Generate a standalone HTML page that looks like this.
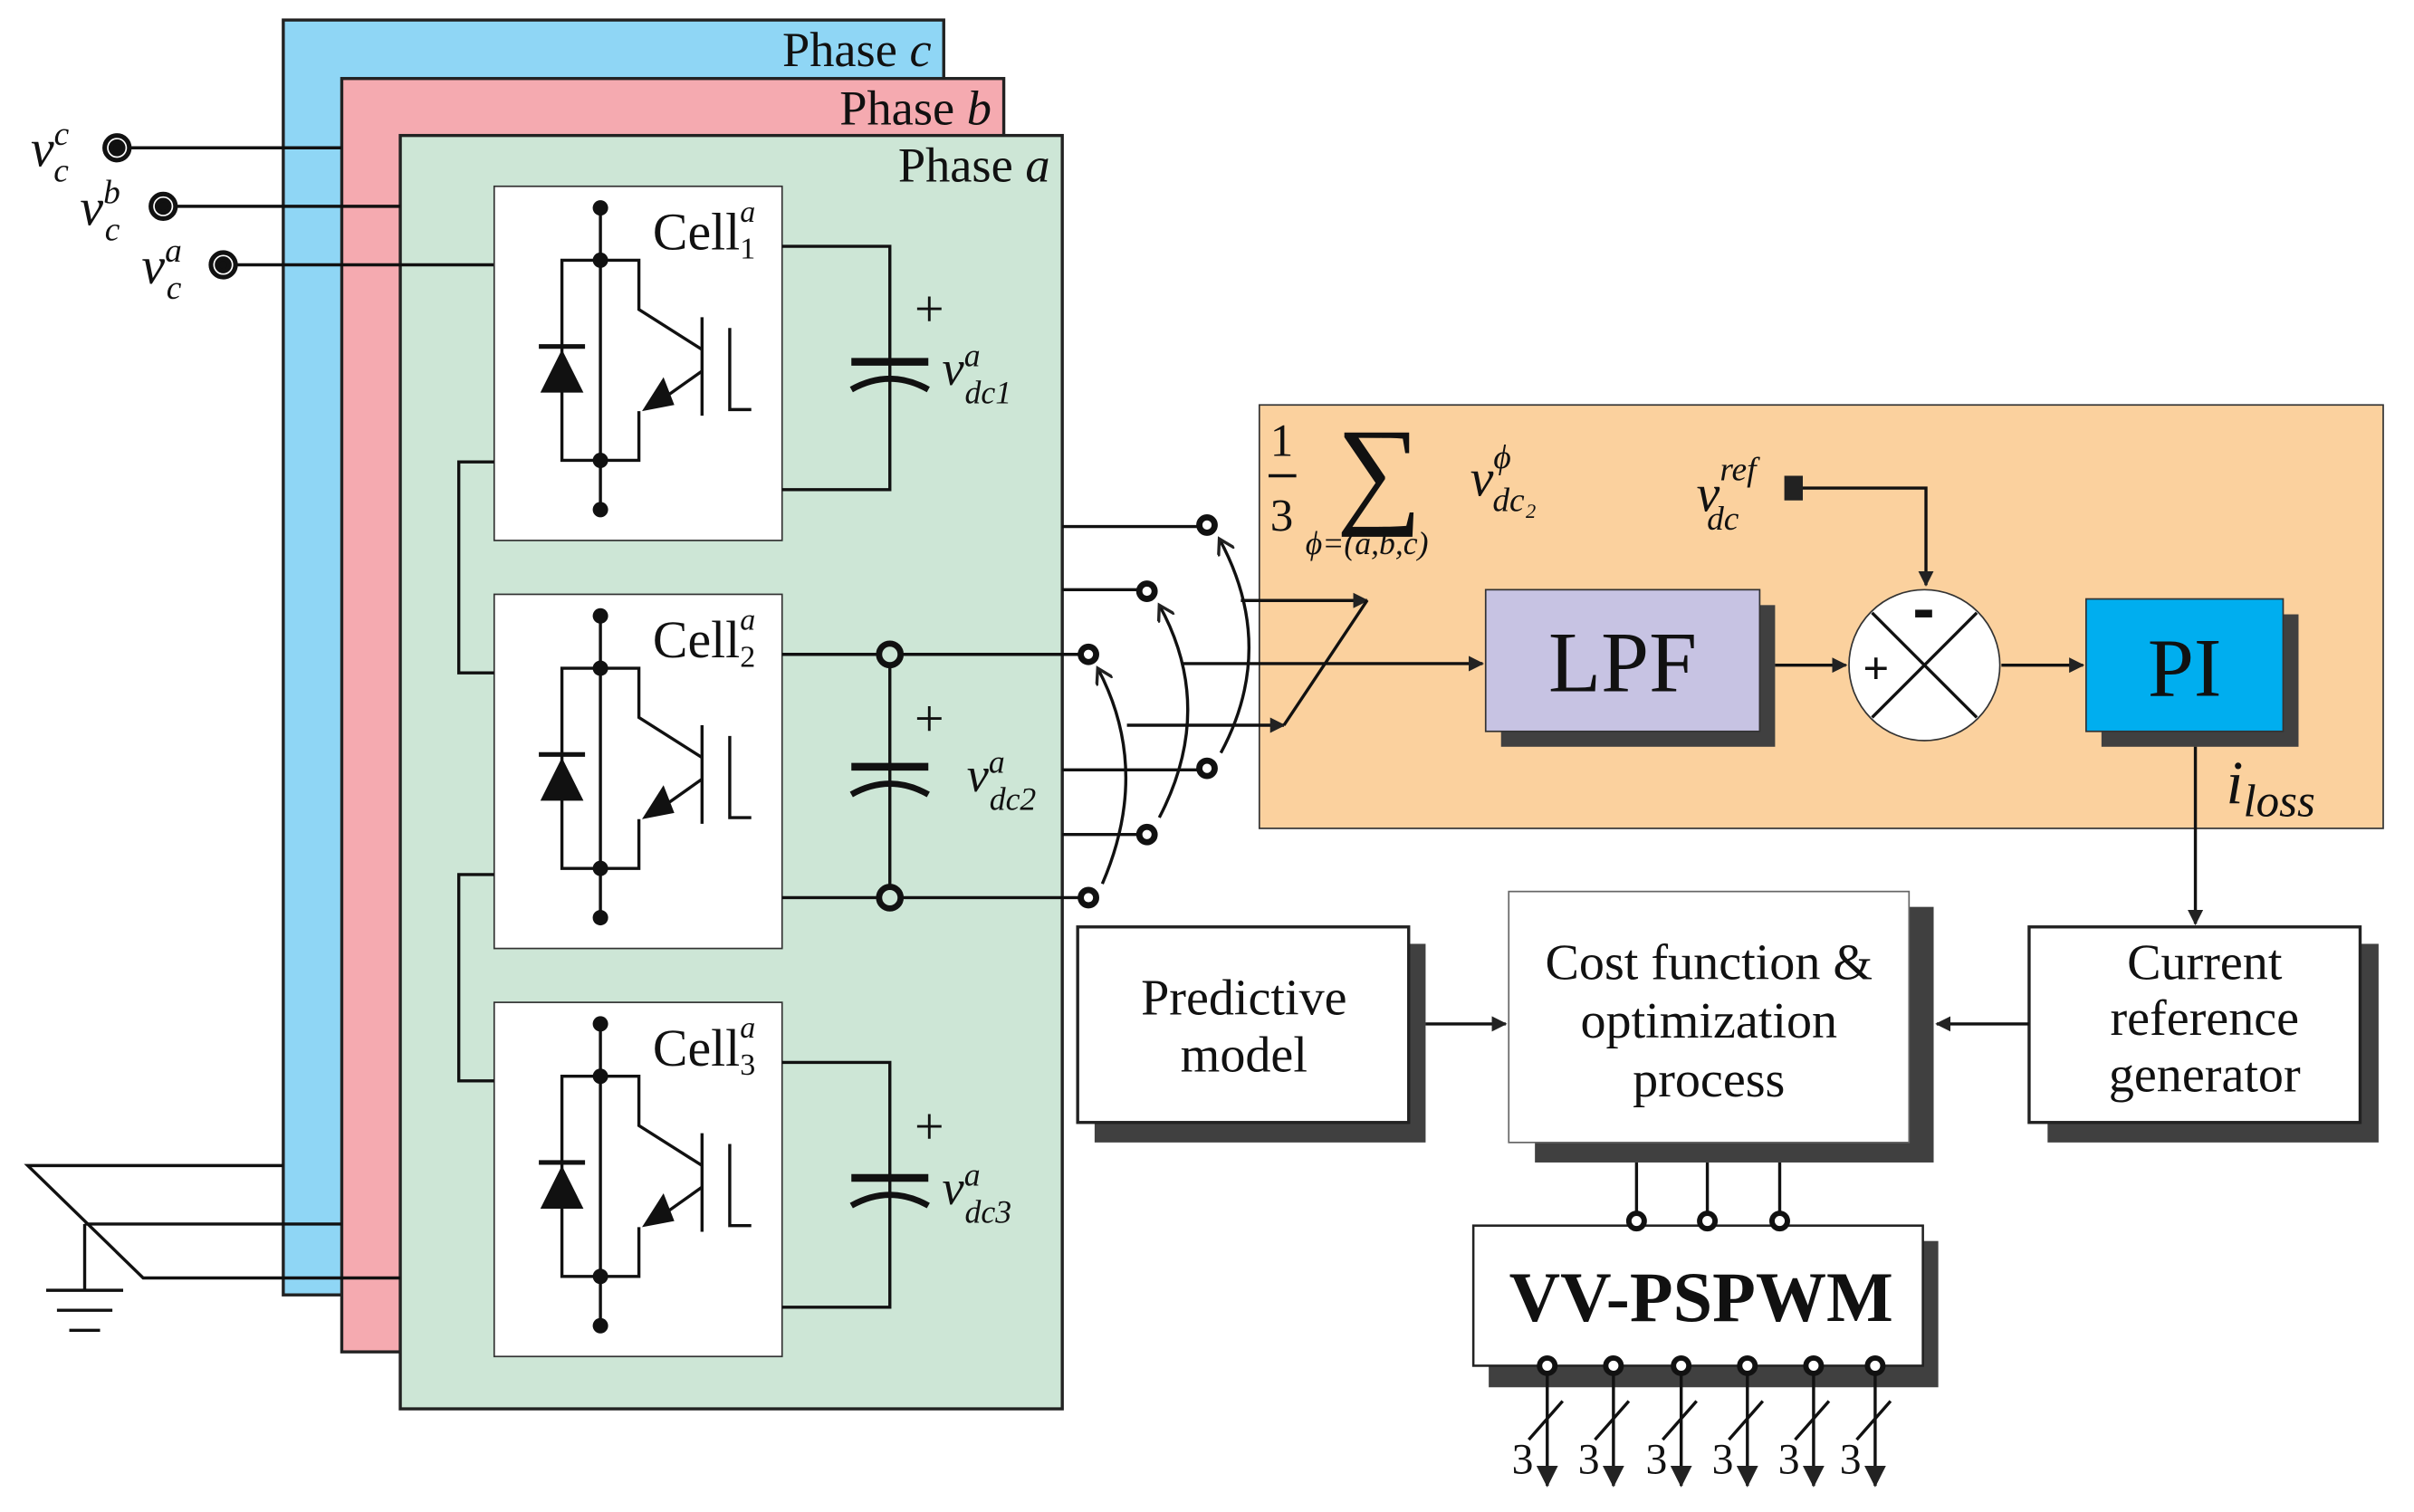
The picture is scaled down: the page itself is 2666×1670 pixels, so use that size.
<!DOCTYPE html>
<html><head><style>html,body{margin:0;padding:0;background:#fff}svg{display:block}</style></head>
<body>
<svg xmlns="http://www.w3.org/2000/svg" width="2666" height="1670" viewBox="0 0 1568 982" preserveAspectRatio="none" font-family="Liberation Serif, serif">
<defs>
<marker id="ar" markerWidth="10" markerHeight="10" refX="9" refY="5" orient="auto" markerUnits="userSpaceOnUse"><path d="M0,0 L10,5 L0,10 Z" fill="#222"/></marker>
<marker id="ar2" markerWidth="14" markerHeight="14" refX="13" refY="7" orient="auto" markerUnits="userSpaceOnUse"><path d="M0,0 L14,7 L0,14 Z" fill="#222"/></marker>
<marker id="ao" markerWidth="12" markerHeight="12" refX="10" refY="6" orient="auto" markerUnits="userSpaceOnUse"><path d="M0,0 L10,6 L0,12" fill="none" stroke="#222" stroke-width="2"/></marker>
<g id="cell">
<rect x="0" y="0" width="187" height="230" fill="#fff" stroke="#333" stroke-width="1"/>
<g stroke="#111" stroke-width="2" fill="none">
<line x1="69" y1="14" x2="69" y2="210"/>
<path d="M69,48 H44 V178 H94 V146"/>
<path d="M69,48 H94 V80 L135,106"/>
<line x1="135" y1="85" x2="135" y2="149"/>
<path d="M153,92 V145 H167"/>
<line x1="135" y1="120" x2="111" y2="137"/>
</g>
<path d="M30,134 L58,134 L44,106 Z" fill="#111"/><line x1="29" y1="104" x2="59" y2="104" stroke="#111" stroke-width="3"/>
<path d="M96,146 L117,142 L110,124 Z" fill="#111"/>
<circle cx="69" cy="14" r="5" fill="#111"/><circle cx="69" cy="48" r="5" fill="#111"/>
<circle cx="69" cy="178" r="5" fill="#111"/><circle cx="69" cy="210" r="5" fill="#111"/>
</g>
<g id="cap" stroke="#111" fill="none">
<line x1="-25" y1="0" x2="25" y2="0" stroke-width="5"/>
<path d="M-25,18 Q0,4 25,18" stroke-width="4"/>
</g>
</defs>

<rect x="184" y="13" width="429" height="828" fill="#8fd6f5" stroke="#222" stroke-width="2"/>
<rect x="222" y="51" width="430" height="827" fill="#f5aab0" stroke="#222" stroke-width="2"/>
<rect x="260" y="88" width="430" height="827" fill="#cde6d6" stroke="#222" stroke-width="2"/>
<text x="605" y="43" font-size="32" text-anchor="end" fill="#111">Phase <tspan font-style="italic">c</tspan></text>
<text x="644" y="81" font-size="32" text-anchor="end" fill="#111">Phase <tspan font-style="italic">b</tspan></text>
<text x="682" y="118" font-size="32" text-anchor="end" fill="#111">Phase <tspan font-style="italic">a</tspan></text>

<g stroke="#111" stroke-width="2" fill="none">
<line x1="76" y1="96" x2="222" y2="96"/>
<line x1="106" y1="134" x2="260" y2="134"/>
<line x1="145" y1="172" x2="321" y2="172"/>
<path d="M184,757 H18 L93,830 H260"/>
<path d="M55,795 H222"/>
<path d="M55,795 V838"/>
<line x1="30" y1="838" x2="80" y2="838"/><line x1="37" y1="851" x2="73" y2="851"/><line x1="45" y1="864" x2="65" y2="864"/>
</g>
<g fill="#111" stroke="#111" stroke-width="3">
<circle cx="76" cy="96" r="8" fill="#fff"/><circle cx="76" cy="96" r="4"/>
<circle cx="106" cy="134" r="8" fill="#fff"/><circle cx="106" cy="134" r="4"/>
<circle cx="145" cy="172" r="8" fill="#fff"/><circle cx="145" cy="172" r="4"/>
</g>
<g font-style="italic" fill="#111">
<text x="20" y="108" font-size="34">v<tspan font-size="22" dy="-14">c</tspan><tspan font-size="22" dx="-10" dy="24">c</tspan></text>
<text x="52" y="146" font-size="34">v<tspan font-size="22" dy="-14">b</tspan><tspan font-size="22" dx="-10" dy="24">c</tspan></text>
<text x="92" y="184" font-size="34">v<tspan font-size="22" dy="-14">a</tspan><tspan font-size="22" dx="-10" dy="24">c</tspan></text>
</g>

<use href="#cell" x="321" y="121"/>
<use href="#cell" x="321" y="386"/>
<use href="#cell" x="321" y="651"/>
<g font-size="34" fill="#111">
<text x="424" y="162">Cell<tspan font-size="20" dy="6">1</tspan><tspan font-size="20" font-style="italic" dx="-10" dy="-24">a</tspan></text>
<text x="424" y="427">Cell<tspan font-size="20" dy="6">2</tspan><tspan font-size="20" font-style="italic" dx="-10" dy="-24">a</tspan></text>
<text x="424" y="692">Cell<tspan font-size="20" dy="6">3</tspan><tspan font-size="20" font-style="italic" dx="-10" dy="-24">a</tspan></text>
</g>
<g stroke="#111" stroke-width="2" fill="none">
<path d="M321,300 H298 V437 H321"/>
<path d="M321,568 H298 V702 H321"/>
<path d="M508,160 H578 V318 H508"/>
<path d="M508,690 H578 V849 H508"/>
<path d="M508,425 H708"/>
<path d="M508,583 H708"/>
<line x1="578" y1="425" x2="578" y2="583"/>
</g>
<use href="#cap" x="578" y="235"/>
<use href="#cap" x="578" y="498"/>
<use href="#cap" x="578" y="765"/>
<g fill="#cde6d6" stroke="#111" stroke-width="4"><circle cx="578" cy="425" r="7"/><circle cx="578" cy="583" r="7"/></g>
<g font-size="34" fill="#111">
<text x="594" y="212">+</text><text x="594" y="478">+</text><text x="594" y="743">+</text>
</g>
<g font-style="italic" fill="#111" font-size="32">
<text x="612" y="250">v<tspan font-size="21" dy="-12">a</tspan><tspan font-size="21" dx="-10" dy="24">dc1</tspan></text>
<text x="628" y="514">v<tspan font-size="21" dy="-12">a</tspan><tspan font-size="21" dx="-10" dy="24">dc2</tspan></text>
<text x="612" y="782">v<tspan font-size="21" dy="-12">a</tspan><tspan font-size="21" dx="-10" dy="24">dc3</tspan></text>
</g>

<rect x="818" y="263" width="730" height="275" fill="#fbd19e" stroke="#333" stroke-width="1"/>

<g stroke="#111" stroke-width="2" fill="none">
<line x1="690" y1="342" x2="781" y2="342"/>
<line x1="690" y1="383" x2="741" y2="383"/>
<line x1="690" y1="500" x2="781" y2="500"/>
<line x1="690" y1="542" x2="741" y2="542"/>
<path d="M716,574 Q748,500 713,434" marker-end="url(#ao)"/>
<path d="M753,531 Q790,460 753,393" marker-end="url(#ao)"/>
<path d="M793,489 Q830,420 792,350" marker-end="url(#ao)"/>
<line x1="806" y1="390" x2="888" y2="390" marker-end="url(#ar)"/>
<line x1="768" y1="431" x2="963" y2="431" marker-end="url(#ar)"/>
<line x1="732" y1="471" x2="834" y2="471" marker-end="url(#ar)"/>
<line x1="834" y1="471" x2="888" y2="390"/>
</g>
<g fill="#fff" stroke="#111" stroke-width="4">
<circle cx="784" cy="341" r="5"/><circle cx="745" cy="384" r="5"/><circle cx="707" cy="425" r="5"/>
<circle cx="784" cy="499" r="5"/><circle cx="745" cy="542" r="5"/><circle cx="707" cy="583" r="5"/>
</g>

<text x="825" y="296" font-size="30" fill="#111">1</text>
<line x1="824" y1="309" x2="842" y2="309" stroke="#111" stroke-width="2"/>
<text x="825" y="345" font-size="30" fill="#111">3</text>
<text x="868" y="332" font-size="78" fill="#111">∑</text>
<text x="848" y="360" font-size="21" font-style="italic" fill="#111">ϕ=(a,b,c)</text>
<text x="955" y="322" font-size="34" font-style="italic" fill="#111">v<tspan font-size="22" dy="-18">ϕ</tspan><tspan font-size="22" dx="-12" dy="28">dc₂</tspan></text>
<text x="1102" y="332" font-size="34" font-style="italic" fill="#111">v<tspan font-size="22" dy="-20">ref</tspan><tspan font-size="22" dx="-32" dy="32">dc</tspan></text>
<rect x="1159" y="309" width="12" height="16" fill="#222"/>
<path d="M1171,317 H1251 V380" stroke="#111" stroke-width="2" fill="none" marker-end="url(#ar)"/>

<rect x="975" y="393" width="178" height="92" fill="#404040"/>
<rect x="965" y="383" width="178" height="92" fill="#c7c3e3" stroke="#333" stroke-width="1"/>
<text x="1054" y="449" font-size="56" text-anchor="middle" fill="#111">LPF</text>
<line x1="1153" y1="432" x2="1199" y2="432" stroke="#111" stroke-width="2" marker-end="url(#ar)"/>
<circle cx="1250" cy="432" r="49" fill="#fff" stroke="#333" stroke-width="1"/>
<line x1="1216" y1="398" x2="1284" y2="466" stroke="#111" stroke-width="2"/>
<line x1="1284" y1="398" x2="1216" y2="466" stroke="#111" stroke-width="2"/>
<rect x="1244" y="396" width="11" height="5" fill="#111"/>
<text x="1210" y="444" font-size="30" font-weight="bold" fill="#111">+</text>
<line x1="1300" y1="432" x2="1353" y2="432" stroke="#111" stroke-width="2" marker-end="url(#ar)"/>
<rect x="1365" y="399" width="128" height="86" fill="#404040"/>
<rect x="1355" y="389" width="128" height="86" fill="#00aeef" stroke="#333" stroke-width="1"/>
<text x="1419" y="452" font-size="54" text-anchor="middle" fill="#111">PI</text>
<line x1="1426" y1="485" x2="1426" y2="600" stroke="#111" stroke-width="2" marker-end="url(#ar)"/>
<text x="1446" y="522" font-size="40" font-style="italic" fill="#111">i<tspan font-size="30" dy="8">loss</tspan></text>

<rect x="711" y="613" width="215" height="129" fill="#404040"/>
<rect x="700" y="602" width="215" height="127" fill="#fff" stroke="#222" stroke-width="2"/>
<text x="808" y="659" font-size="33" text-anchor="middle" fill="#111">Predictive</text>
<text x="808" y="696" font-size="33" text-anchor="middle" fill="#111">model</text>
<line x1="926" y1="665" x2="978" y2="665" stroke="#111" stroke-width="2" marker-end="url(#ar)"/>

<rect x="997" y="589" width="259" height="166" fill="#404040"/>
<rect x="980" y="579" width="260" height="163" fill="#fff" stroke="#666" stroke-width="1"/>
<text x="1110" y="636" font-size="33" text-anchor="middle" fill="#111">Cost function &amp;</text>
<text x="1110" y="674" font-size="33" text-anchor="middle" fill="#111">optimization</text>
<text x="1110" y="712" font-size="33" text-anchor="middle" fill="#111">process</text>

<rect x="1330" y="613" width="215" height="129" fill="#404040"/>
<rect x="1318" y="602" width="215" height="127" fill="#fff" stroke="#222" stroke-width="2"/>
<text x="1432" y="636" font-size="33" text-anchor="middle" fill="#111">Current</text>
<text x="1432" y="672" font-size="33" text-anchor="middle" fill="#111">reference</text>
<text x="1432" y="709" font-size="33" text-anchor="middle" fill="#111">generator</text>
<line x1="1318" y1="665" x2="1258" y2="665" stroke="#111" stroke-width="2" marker-end="url(#ar)"/>

<g stroke="#111" stroke-width="2"><line x1="1063" y1="755" x2="1063" y2="793"/><line x1="1109" y1="755" x2="1109" y2="793"/><line x1="1156" y1="755" x2="1156" y2="793"/></g>
<rect x="967" y="806" width="292" height="95" fill="#404040"/>
<rect x="957" y="796" width="292" height="91" fill="#fff" stroke="#222" stroke-width="1.5"/>
<text x="1105" y="858" font-size="46" font-weight="bold" text-anchor="middle" fill="#111">VV-PSPWM</text>
<g fill="#fff" stroke="#111" stroke-width="3.5">
<circle cx="1063" cy="793" r="5"/><circle cx="1109" cy="793" r="5"/><circle cx="1156" cy="793" r="5"/>
</g>
<g stroke="#111" stroke-width="2">
<line x1="1005" y1="888" x2="1005" y2="965" marker-end="url(#ar2)"/><line x1="993" y1="935" x2="1015" y2="910"/>
<line x1="1048" y1="888" x2="1048" y2="965" marker-end="url(#ar2)"/><line x1="1036" y1="935" x2="1058" y2="910"/>
<line x1="1092" y1="888" x2="1092" y2="965" marker-end="url(#ar2)"/><line x1="1080" y1="935" x2="1102" y2="910"/>
<line x1="1135" y1="888" x2="1135" y2="965" marker-end="url(#ar2)"/><line x1="1123" y1="935" x2="1145" y2="910"/>
<line x1="1178" y1="888" x2="1178" y2="965" marker-end="url(#ar2)"/><line x1="1166" y1="935" x2="1188" y2="910"/>
<line x1="1218" y1="888" x2="1218" y2="965" marker-end="url(#ar2)"/><line x1="1206" y1="935" x2="1228" y2="910"/>
</g>
<g fill="#fff" stroke="#111" stroke-width="3.5">
<circle cx="1005" cy="887" r="5"/><circle cx="1048" cy="887" r="5"/><circle cx="1092" cy="887" r="5"/>
<circle cx="1135" cy="887" r="5"/><circle cx="1178" cy="887" r="5"/><circle cx="1218" cy="887" r="5"/>
</g>
<g font-size="28" fill="#111">
<text x="982" y="957">3</text><text x="1025" y="957">3</text><text x="1069" y="957">3</text>
<text x="1112" y="957">3</text><text x="1155" y="957">3</text><text x="1195" y="957">3</text>
</g>
</svg>
</body></html>
